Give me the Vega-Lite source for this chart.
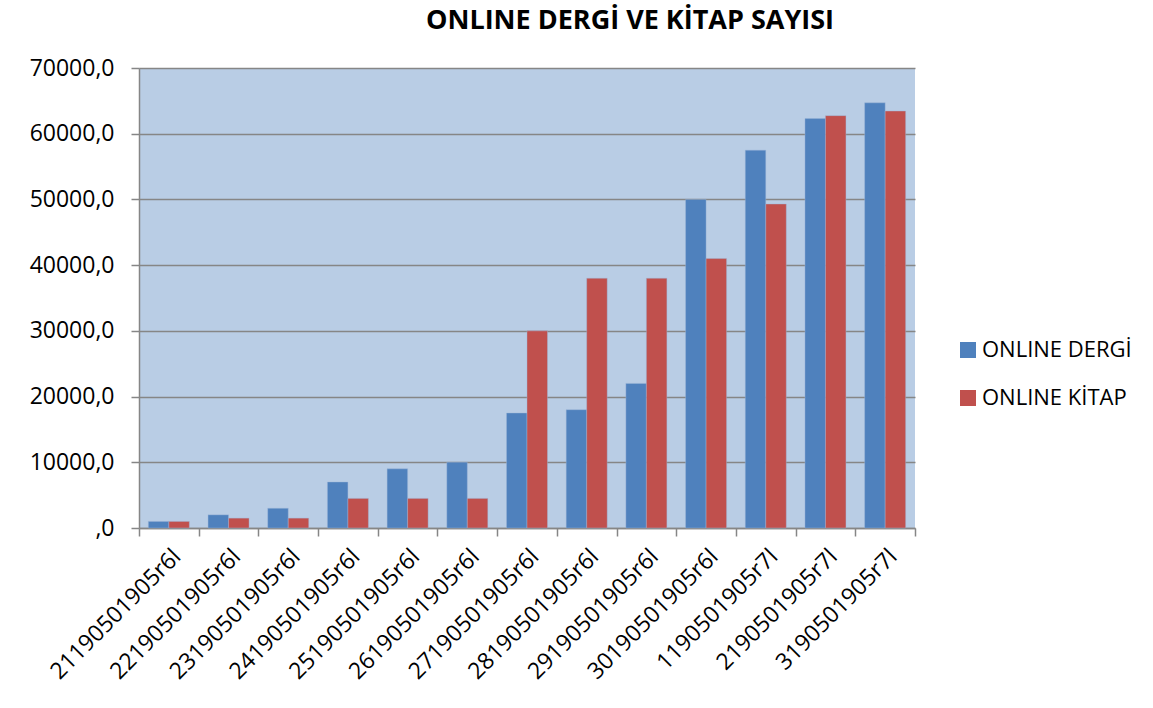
{
  "$schema": "https://vega.github.io/schema/vega-lite/v6.json",
  "width": 776,
  "height": 460,
  "autosize": {"type": "none"},
  "padding": {"left": 139, "top": 68, "right": 238, "bottom": 180},
  "background": "white",
  "title": {
    "text": "ONLINE DERGİ VE KİTAP SAYISI",
    "anchor": "middle",
    "frame": "group",
    "font": "Open Sans",
    "fontSize": 27,
    "fontWeight": "bold",
    "color": "#000000",
    "dx": 103,
    "offset": 22
  },
  "data": {
    "values": [
      {"cat": "21190501905r6l", "series": "ONLINE DERGİ", "value": 1000},
      {"cat": "21190501905r6l", "series": "ONLINE KİTAP", "value": 1000},
      {"cat": "22190501905r6l", "series": "ONLINE DERGİ", "value": 2000},
      {"cat": "22190501905r6l", "series": "ONLINE KİTAP", "value": 1500},
      {"cat": "23190501905r6l", "series": "ONLINE DERGİ", "value": 3000},
      {"cat": "23190501905r6l", "series": "ONLINE KİTAP", "value": 1500},
      {"cat": "24190501905r6l", "series": "ONLINE DERGİ", "value": 7000},
      {"cat": "24190501905r6l", "series": "ONLINE KİTAP", "value": 4500},
      {"cat": "25190501905r6l", "series": "ONLINE DERGİ", "value": 9000},
      {"cat": "25190501905r6l", "series": "ONLINE KİTAP", "value": 4500},
      {"cat": "26190501905r6l", "series": "ONLINE DERGİ", "value": 10000},
      {"cat": "26190501905r6l", "series": "ONLINE KİTAP", "value": 4500},
      {"cat": "27190501905r6l", "series": "ONLINE DERGİ", "value": 17500},
      {"cat": "27190501905r6l", "series": "ONLINE KİTAP", "value": 30000},
      {"cat": "28190501905r6l", "series": "ONLINE DERGİ", "value": 18000},
      {"cat": "28190501905r6l", "series": "ONLINE KİTAP", "value": 38000},
      {"cat": "29190501905r6l", "series": "ONLINE DERGİ", "value": 22000},
      {"cat": "29190501905r6l", "series": "ONLINE KİTAP", "value": 38000},
      {"cat": "30190501905r6l", "series": "ONLINE DERGİ", "value": 50000},
      {"cat": "30190501905r6l", "series": "ONLINE KİTAP", "value": 41000},
      {"cat": "1190501905r7l", "series": "ONLINE DERGİ", "value": 57500},
      {"cat": "1190501905r7l", "series": "ONLINE KİTAP", "value": 49300},
      {"cat": "2190501905r7l", "series": "ONLINE DERGİ", "value": 62300},
      {"cat": "2190501905r7l", "series": "ONLINE KİTAP", "value": 62750},
      {"cat": "3190501905r7l", "series": "ONLINE DERGİ", "value": 64700},
      {"cat": "3190501905r7l", "series": "ONLINE KİTAP", "value": 63450}
    ]
  },
  "mark": {"type": "bar", "stroke": "#9fb6d9", "strokeWidth": 0.6, "strokeOpacity": 0.7},
  "encoding": {
    "x": {
      "field": "cat",
      "type": "nominal",
      "sort": null,
      "scale": {"paddingInner": 0, "paddingOuter": 0},
      "axis": {
        "title": null,
        "labelAngle": -45,
        "labelFont": "Open Sans",
        "labelFontSize": 23,
        "labelColor": "#000000",
        "tickBand": "extent",
        "tickSize": 8,
        "tickColor": "#868686",
        "tickWidth": 1.5,
        "domainColor": "#868686",
        "domainWidth": 1.5,
        "labelPadding": 9,
        "grid": false
      }
    },
    "xOffset": {
      "field": "series",
      "type": "nominal",
      "scale": {"paddingInner": 0, "paddingOuter": 0.456}
    },
    "y": {
      "field": "value",
      "type": "quantitative",
      "scale": {"domain": [0, 70000], "nice": false},
      "axis": {
        "title": null,
        "values": [0, 10000, 20000, 30000, 40000, 50000, 60000, 70000],
        "labelExpr": "datum.value == 0 ? ',0' : datum.value + ',0'",
        "labelFont": "Open Sans",
        "labelFontSize": 23,
        "labelColor": "#000000",
        "labelPadding": 17,
        "tickSize": 8,
        "tickColor": "#868686",
        "tickWidth": 1.5,
        "domainColor": "#868686",
        "domainWidth": 1.5,
        "grid": true,
        "gridColor": "#868686",
        "gridWidth": 1.5
      }
    },
    "color": {
      "field": "series",
      "type": "nominal",
      "scale": {"domain": ["ONLINE DERGİ", "ONLINE KİTAP"], "range": ["#4F81BD", "#C0504D"]},
      "legend": {
        "title": null,
        "orient": "none",
        "legendX": 818,
        "legendY": 271,
        "symbolType": "square",
        "symbolSize": 256,
        "symbolStrokeWidth": 0,
        "labelFont": "Open Sans",
        "labelFontSize": 22,
        "labelColor": "#000000",
        "labelOffset": 3,
        "rowPadding": 26
      }
    }
  },
  "config": {
    "view": {"fill": "#B9CDE5", "stroke": null}
  }
}
